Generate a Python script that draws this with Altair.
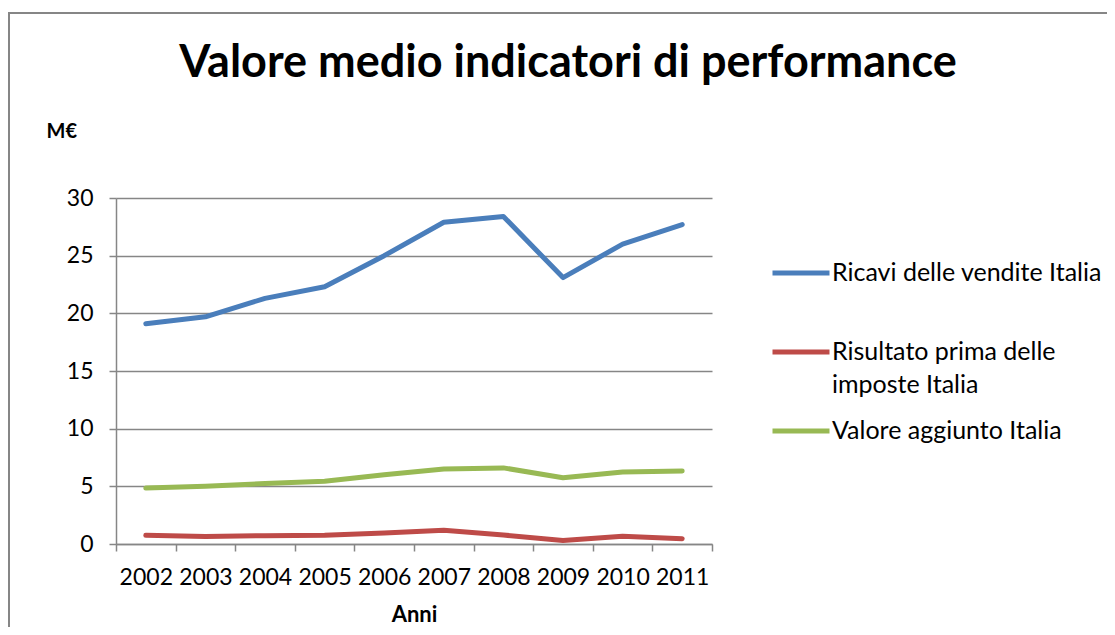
import altair as alt
import pandas as pd

years = ["2002", "2003", "2004", "2005", "2006", "2007", "2008", "2009", "2010", "2011"]
ricavi = [19.1, 19.7, 21.3, 22.3, 25.0, 27.9, 28.4, 23.1, 26.0, 27.7]
risultato = [0.75, 0.65, 0.72, 0.75, 0.95, 1.2, 0.78, 0.3, 0.67, 0.46]
valore = [4.85, 5.0, 5.25, 5.45, 6.0, 6.5, 6.6, 5.75, 6.25, 6.33]
series = ["Ricavi delle vendite Italia", "Risultato prima delle imposte Italia", "Valore aggiunto Italia"]
colors = ["#4A7EBB", "#BE4B48", "#98B954"]
y_ticks = [0, 5, 10, 15, 20, 25, 30]

rows = []
for name, vals in zip(series, [ricavi, risultato, valore]):
    for yr, v in zip(years, vals):
        rows.append({"anno": yr, "valore": v, "serie": name})
df = pd.DataFrame(rows)

GRAY = "#868686"
FONT = "Lato"

border = alt.Chart(pd.DataFrame({"k": [0]})).mark_rect(
    fill="transparent", stroke=GRAY, strokeWidth=2
).encode(
    x=alt.value(-107), x2=alt.value(1100), y=alt.value(-185), y2=alt.value(700)
)

label_expr = (
    "datum.label == 'Risultato prima delle imposte Italia' ? ['Risultato prima delle', 'imposte Italia'] : "
    "(datum.label == 'Ricavi delle vendite Italia' ? [datum.label, ''] : datum.label)"
)

lines = alt.Chart(df).mark_line(
    strokeWidth=5, strokeCap="round", strokeJoin="round"
).encode(
    x=alt.X(
        "anno:O",
        sort=years,
        scale=alt.Scale(type="band", paddingInner=0, paddingOuter=0),
        axis=alt.Axis(
            title="Anni",
            tickBand="extent",
            labelAngle=0,
            labelFont=FONT,
            labelFontSize=23,
            labelColor="black",
            labelPadding=15,
            labelOverlap=False,
            tickSize=7,
            tickColor=GRAY,
            tickWidth=1.5,
            domainColor=GRAY,
            domainWidth=1.5,
            grid=False,
            titleFont=FONT,
            titleFontSize=22,
            titleFontWeight="bold",
            titleColor="black",
            titlePadding=15,
        ),
    ),
    y=alt.Y(
        "valore:Q",
        scale=alt.Scale(domain=[0, 30], nice=False),
        axis=alt.Axis(
            values=y_ticks,
            title="M€",
            titleAngle=0,
            titleX=-70,
            titleY=-67,
            titleAlign="left",
            titleBaseline="middle",
            titleFont=FONT,
            titleFontSize=20,
            titleFontWeight="bold",
            titleColor="black",
            labelFont=FONT,
            labelFontSize=23,
            labelColor="black",
            labelPadding=16,
            tickSize=7,
            tickColor=GRAY,
            tickWidth=1.5,
            domainColor=GRAY,
            domainWidth=1.5,
            gridColor=GRAY,
            gridWidth=1.5,
        ),
    ),
    color=alt.Color(
        "serie:N",
        sort=series,
        scale=alt.Scale(domain=series, range=colors),
        legend=alt.Legend(
            title=None,
            orient="none",
            legendX=654,
            legendY=44,
            symbolType="stroke",
            symbolSize=3249,
            symbolStrokeWidth=5,
            labelFont=FONT,
            labelFontSize=25,
            labelColor="black",
            labelLimit=400,
            labelOffset=0,
            rowPadding=2,
            labelExpr=label_expr,
        ),
    ),
)

chart = alt.layer(border, lines).properties(
    width=596,
    height=346,
    autosize=alt.AutoSizeParams(type="none"),
    padding={"left": 108, "top": 190, "right": 395, "bottom": 83},
    title=alt.TitleParams(
        text="Valore medio indicatori di performance",
        font=FONT,
        fontSize=45,
        fontWeight="bold",
        color="black",
        anchor="middle",
        frame="group",
        baseline="alphabetic",
        dx=154,
        offset=-110,
    ),
).configure(
    style={"guide-label": {"lineHeight": 33}},
    view={"strokeOpacity": 0},
)

chart.save("out.html", embed_options={"renderer": "svg", "actions": False})
